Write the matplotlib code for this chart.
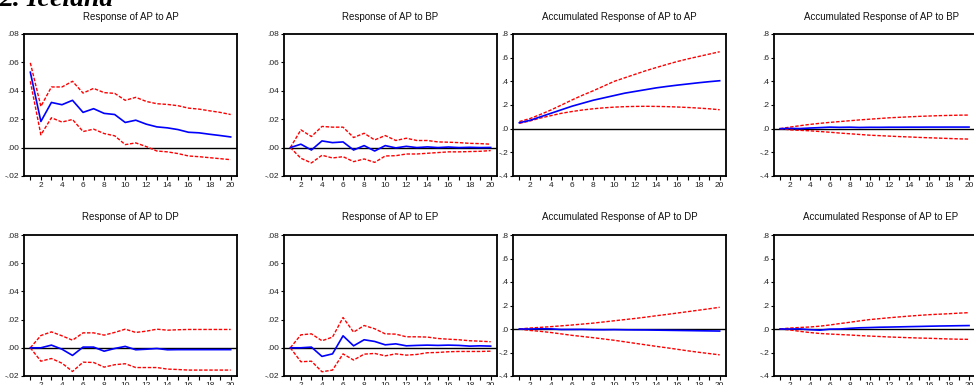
import matplotlib
matplotlib.use("Agg")
import matplotlib.pyplot as plt
from matplotlib.ticker import FuncFormatter

periods = list(range(1, 21))

# Response of AP to AP
ap_ap = [0.0531, 0.0184, 0.0318, 0.0302, 0.0333, 0.0248, 0.0274, 0.0241, 0.0233, 0.0177,
         0.0193, 0.0165, 0.0146, 0.0139, 0.0127, 0.0108, 0.0104, 0.0094, 0.0085, 0.0075]
ap_ap_hi = [0.0597, 0.0290, 0.0427, 0.0427, 0.0467, 0.0384, 0.0417, 0.0387, 0.0382, 0.0333,
            0.0354, 0.0325, 0.0309, 0.0304, 0.0295, 0.0278, 0.0271, 0.0259, 0.0248, 0.0233]
ap_ap_lo = [0.0467, 0.0090, 0.0210, 0.0180, 0.0198, 0.0113, 0.0130, 0.0099, 0.0083, 0.0021,
            0.0033, 0.0007, -0.0024, -0.0030, -0.0042, -0.0059, -0.0064, -0.0071, -0.0078, -0.0085]

# Response of AP to BP
ap_bp = [0.0, 0.0024, -0.0017, 0.0047, 0.0035, 0.0040, -0.0017, 0.0014, -0.0024, 0.0014,
         -0.0002, 0.0009, 0.0, 0.0005, 0.0, 0.0004, 0.0, 0.0002, 0.0, 0.0001]
ap_bp_hi = [0.0, 0.0125, 0.0078, 0.0149, 0.0144, 0.0144, 0.0071, 0.0101, 0.0054, 0.0085,
            0.0050, 0.0066, 0.0050, 0.0050, 0.0040, 0.0038, 0.0035, 0.0030, 0.0028, 0.0024]
ap_bp_lo = [0.0, -0.0075, -0.0108, -0.0054, -0.0073, -0.0064, -0.0099, -0.0080, -0.0104, -0.0059,
            -0.0057, -0.0045, -0.0045, -0.0040, -0.0035, -0.0030, -0.0030, -0.0028, -0.0026, -0.0021]

# Accumulated Response of AP to AP
acc_ap_ap = [0.050, 0.070, 0.100, 0.130, 0.160, 0.190, 0.215, 0.240, 0.260, 0.280,
             0.300, 0.315, 0.330, 0.345, 0.357, 0.368, 0.378, 0.388, 0.397, 0.405]
acc_ap_ap_hi = [0.060, 0.085, 0.120, 0.158, 0.200, 0.243, 0.283, 0.320, 0.360, 0.400,
                0.430, 0.460, 0.490, 0.517, 0.543, 0.568, 0.590, 0.610, 0.630, 0.650]
acc_ap_ap_lo = [0.045, 0.065, 0.090, 0.110, 0.130, 0.145, 0.158, 0.168, 0.176, 0.182,
                0.186, 0.188, 0.189, 0.188, 0.186, 0.183, 0.179, 0.174, 0.168, 0.160]

# Accumulated Response of AP to BP
acc_ap_bp = [0.0, 0.0024, 0.0007, 0.0054, 0.0089, 0.0129, 0.0112, 0.0126, 0.0102, 0.0116,
             0.0114, 0.0123, 0.0123, 0.0128, 0.0128, 0.0132, 0.0132, 0.0134, 0.0134, 0.0135]
acc_ap_bp_hi = [0.0, 0.013, 0.025, 0.036, 0.045, 0.053, 0.060, 0.067, 0.074, 0.080,
                0.086, 0.092, 0.096, 0.100, 0.104, 0.107, 0.110, 0.112, 0.114, 0.115]
acc_ap_bp_lo = [0.0, -0.010, -0.014, -0.018, -0.024, -0.030, -0.037, -0.043, -0.049, -0.055,
                -0.059, -0.063, -0.067, -0.070, -0.074, -0.077, -0.080, -0.083, -0.086, -0.088]

# Response of AP to DP
ap_dp = [0.0, 0.0, 0.0019, -0.0010, -0.0054, 0.0005, 0.0005, -0.0024, -0.0005, 0.0010,
         -0.0014, -0.0010, -0.0005, -0.0014, -0.0013, -0.0013, -0.0013, -0.0013, -0.0013, -0.0013]
ap_dp_hi = [0.0, 0.0087, 0.0113, 0.0085, 0.0054, 0.0106, 0.0106, 0.0090, 0.0109, 0.0132,
            0.0109, 0.0118, 0.0132, 0.0125, 0.0128, 0.0130, 0.0130, 0.0130, 0.0130, 0.0130]
ap_dp_lo = [0.0, -0.0095, -0.0076, -0.0109, -0.0168, -0.0102, -0.0104, -0.0137, -0.0120, -0.0113,
            -0.0140, -0.0140, -0.0140, -0.0151, -0.0154, -0.0158, -0.0158, -0.0158, -0.0158, -0.0158]

# Response of AP to EP
ap_ep = [0.0, 0.0, 0.0005, -0.0061, -0.0043, 0.0085, 0.0014, 0.0057, 0.0045, 0.0021,
         0.0028, 0.0014, 0.0017, 0.0019, 0.0017, 0.0019, 0.0017, 0.0012, 0.0014, 0.0012]
ap_ep_hi = [0.0, 0.0092, 0.0099, 0.0050, 0.0076, 0.0215, 0.0111, 0.0158, 0.0135, 0.0099,
            0.0097, 0.0078, 0.0078, 0.0076, 0.0066, 0.0061, 0.0057, 0.0050, 0.0047, 0.0043]
ap_ep_lo = [0.0, -0.0099, -0.0095, -0.0170, -0.0158, -0.0043, -0.0087, -0.0045, -0.0040, -0.0057,
            -0.0043, -0.0052, -0.0047, -0.0035, -0.0033, -0.0028, -0.0026, -0.0026, -0.0026, -0.0024]

# Accumulated Response of AP to DP
acc_ap_dp = [0.0, 0.0, 0.0019, 0.0009, -0.0045, -0.0040, -0.0035, -0.0059, -0.0064, -0.0054,
             -0.0068, -0.0078, -0.0083, -0.0097, -0.0110, -0.0123, -0.0136, -0.0149, -0.0162, -0.0175]
acc_ap_dp_hi = [0.0, 0.008, 0.014, 0.020, 0.027, 0.034, 0.042, 0.050, 0.060, 0.070,
                0.080, 0.090, 0.101, 0.113, 0.124, 0.136, 0.148, 0.160, 0.172, 0.185]
acc_ap_dp_lo = [0.0, -0.012, -0.020, -0.030, -0.042, -0.054, -0.064, -0.074, -0.085, -0.096,
                -0.109, -0.122, -0.135, -0.148, -0.160, -0.173, -0.186, -0.198, -0.209, -0.220]

# Accumulated Response of AP to EP
acc_ap_ep = [0.0, 0.0, 0.0005, -0.0056, -0.0099, -0.0014, 0.0, 0.0057, 0.0102, 0.0123,
             0.0151, 0.0165, 0.0182, 0.0201, 0.0218, 0.0237, 0.0254, 0.0266, 0.0280, 0.0292]
acc_ap_ep_hi = [0.0, 0.008, 0.013, 0.017, 0.024, 0.034, 0.046, 0.057, 0.069, 0.080,
                0.088, 0.096, 0.103, 0.110, 0.116, 0.122, 0.126, 0.130, 0.135, 0.139]
acc_ap_ep_lo = [0.0, -0.008, -0.020, -0.030, -0.038, -0.043, -0.047, -0.051, -0.056, -0.060,
                -0.064, -0.068, -0.071, -0.074, -0.077, -0.079, -0.082, -0.085, -0.087, -0.088]

titles = ["Response of AP to AP", "Response of AP to BP",
          "Accumulated Response of AP to AP", "Accumulated Response of AP to BP",
          "Response of AP to DP", "Response of AP to EP",
          "Accumulated Response of AP to DP", "Accumulated Response of AP to EP"]
series = [(ap_ap, ap_ap_hi, ap_ap_lo), (ap_bp, ap_bp_hi, ap_bp_lo),
          (acc_ap_ap, acc_ap_ap_hi, acc_ap_ap_lo), (acc_ap_bp, acc_ap_bp_hi, acc_ap_bp_lo),
          (ap_dp, ap_dp_hi, ap_dp_lo), (ap_ep, ap_ep_hi, ap_ep_lo),
          (acc_ap_dp, acc_ap_dp_hi, acc_ap_dp_lo), (acc_ap_ep, acc_ap_ep_hi, acc_ap_ep_lo)]
accumulated = [False, False, True, True, False, False, True, True]

W, H = 974, 385
fig = plt.figure(figsize=(W / 100, H / 100), dpi=100)
plt.rcParams['font.family'] = ['Liberation Sans', 'DejaVu Sans']

lefts = [24, 284, 513, 774]
widths = [213, 213, 213, 201]
rows = [(34, 176), (235, 376)]
title_y = [17, 217]


def make_fmt(dec):
    def f(v, pos):
        s = ("%." + str(dec) + "f") % v
        if s.startswith("-0"):
            s = "-" + s[2:]
        elif s.startswith("0"):
            s = s[1:]
        if s in ("-.00", "-.0"):
            s = s[1:]
        return s
    return FuncFormatter(f)


for i in range(8):
    r, c = divmod(i, 4)
    top, bot = rows[r]
    ax = fig.add_axes([lefts[c] / W, 1 - bot / H, widths[c] / W, (bot - top) / H])
    ax.set_facecolor('none')
    y, hi, lo = series[i]
    ax.axhline(0, color='black', lw=1.0, zorder=1)
    ax.plot(periods, hi, color='red', lw=1.0, ls=(0, (2.5, 1.2)), zorder=2)
    ax.plot(periods, lo, color='red', lw=1.0, ls=(0, (2.5, 1.2)), zorder=2)
    ax.plot(periods, y, color='blue', lw=1.2, zorder=3)
    ax.set_xlim(0.4, 20.6)
    if accumulated[i]:
        ax.set_ylim(-0.4, 0.8)
        ax.set_yticks([-0.4, -0.2, 0.0, 0.2, 0.4, 0.6, 0.8])
        ax.yaxis.set_major_formatter(make_fmt(1))
    else:
        ax.set_ylim(-0.02, 0.08)
        ax.set_yticks([-0.02, 0.0, 0.02, 0.04, 0.06, 0.08])
        ax.yaxis.set_major_formatter(make_fmt(2))
    ax.set_xticks(periods)
    ax.set_xticklabels([str(p) if p % 2 == 0 else "" for p in periods])
    ax.tick_params(axis='x', labelsize=6, length=3, width=0.8, pad=1.5,
                   colors='black', labelcolor='#222222')
    ax.tick_params(axis='y', labelsize=6, length=2.5, width=0.8, pad=1,
                   colors='black', labelcolor='#222222')
    for sp in ax.spines.values():
        sp.set_linewidth(1.3)
        sp.set_color('black')
    cx = lefts[c] + widths[c] / 2 if c < 3 else lefts[c] + 107
    fig.text(cx / W, 1 - title_y[r] / H,
             titles[i], ha='center', va='center', fontsize=7, color='#111111')

fig.text(-1 / W, 1 - 6 / H, "2. Iceland", ha='left', va='baseline',
         fontsize=20, fontweight='bold', fontstyle='italic',
         family=['Liberation Serif', 'DejaVu Serif'])

fig.savefig("out.png", dpi=100)
